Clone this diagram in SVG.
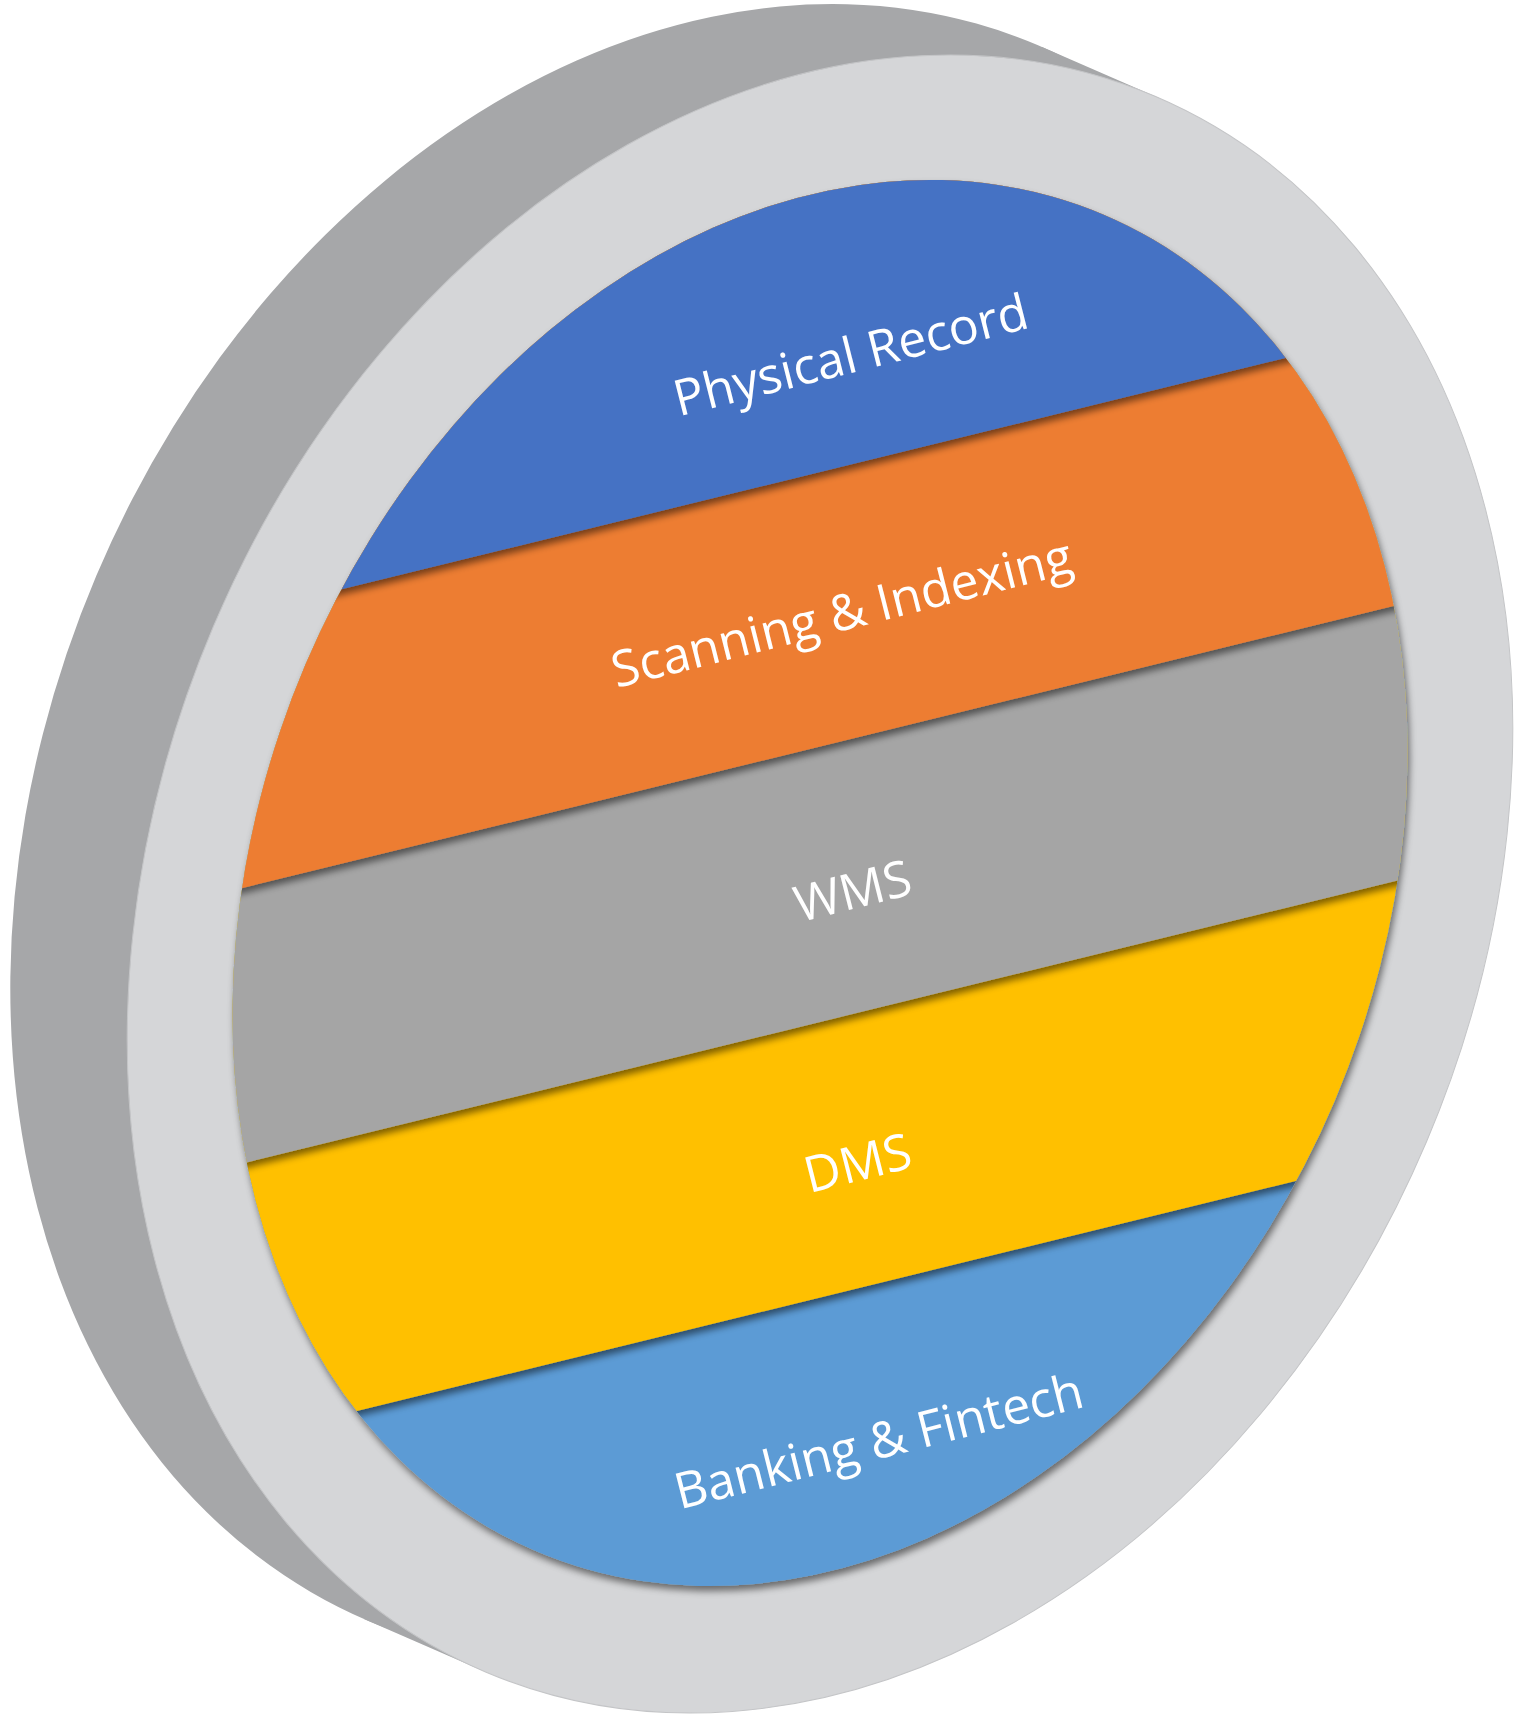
<svg xmlns="http://www.w3.org/2000/svg" width="1514" height="1717" viewBox="0 0 1514 1717">
<style>
.side{fill:#A6A7A9}
.ring{fill:#D5D6D8;stroke:#C4C5C7;stroke-width:1}
.lbl{font-family:"Open Sans","Noto Sans","Liberation Sans",sans-serif;font-size:50px;fill:#FFFFFF;text-anchor:middle}
</style>
<defs>
<clipPath id="disc"><ellipse cx="0" cy="0" rx="559" ry="726" transform="translate(820,883) rotate(23)"/></clipPath>
<filter id="sh" filterUnits="userSpaceOnUse" x="0" y="0" width="1514" height="1717">
<feGaussianBlur in="SourceAlpha" stdDeviation="3.5"/>
<feOffset dx="2" dy="5" result="b"/>
<feFlood flood-color="#000000" flood-opacity="0.5"/>
<feComposite in2="b" operator="in"/>
<feMerge><feMergeNode/><feMergeNode in="SourceGraphic"/></feMerge>
</filter>
</defs>
<g id="disc-body">
<ellipse class="side" cx="0" cy="0" rx="659" ry="856" transform="translate(703,833) rotate(23)"/>
<polygon class="side" points="1159,98 1042,47 364,1619 481,1670"/>
<ellipse class="ring" cx="0" cy="0" rx="659" ry="856" transform="translate(820,884) rotate(23)"/>
</g>
<g id="band-banking">
<g filter="url(#sh)"><ellipse cx="0" cy="0" rx="559" ry="726" fill="#5B9BD5" transform="translate(820,883) rotate(23)"/></g>
<text class="lbl" x="883" y="1458" transform="rotate(-14.2 883 1458)">Banking &amp; Fintech</text>
</g>
<g id="band-dms">
<path d="M0,0 H1514 V1127.5 L0,1498.4 Z" fill="#FFC000" filter="url(#sh)" clip-path="url(#disc)"/>
<text class="lbl" x="862" y="1180" transform="rotate(-14.2 862 1180)">DMS</text>
</g>
<g id="band-wms">
<path d="M0,0 H1514 V852 L0,1222.9 Z" fill="#A5A5A5" filter="url(#sh)" clip-path="url(#disc)"/>
<text class="lbl" x="857" y="908" transform="rotate(-14.2 857 908)">WMS</text>
</g>
<g id="band-scanning">
<path d="M0,0 H1514 V576.5 L0,947.4 Z" fill="#ED7D31" filter="url(#sh)" clip-path="url(#disc)"/>
<text class="lbl" x="846" y="630" transform="rotate(-14.2 846 630)">Scanning &amp; Indexing</text>
</g>
<g id="band-physical">
<path d="M0,0 H1514 V302 L0,672.9 Z" fill="#4472C4" filter="url(#sh)" clip-path="url(#disc)"/>
<text class="lbl" x="855" y="372" transform="rotate(-14.2 855 372)">Physical Record</text>
</g>
<g id="connectors"/>
</svg>
